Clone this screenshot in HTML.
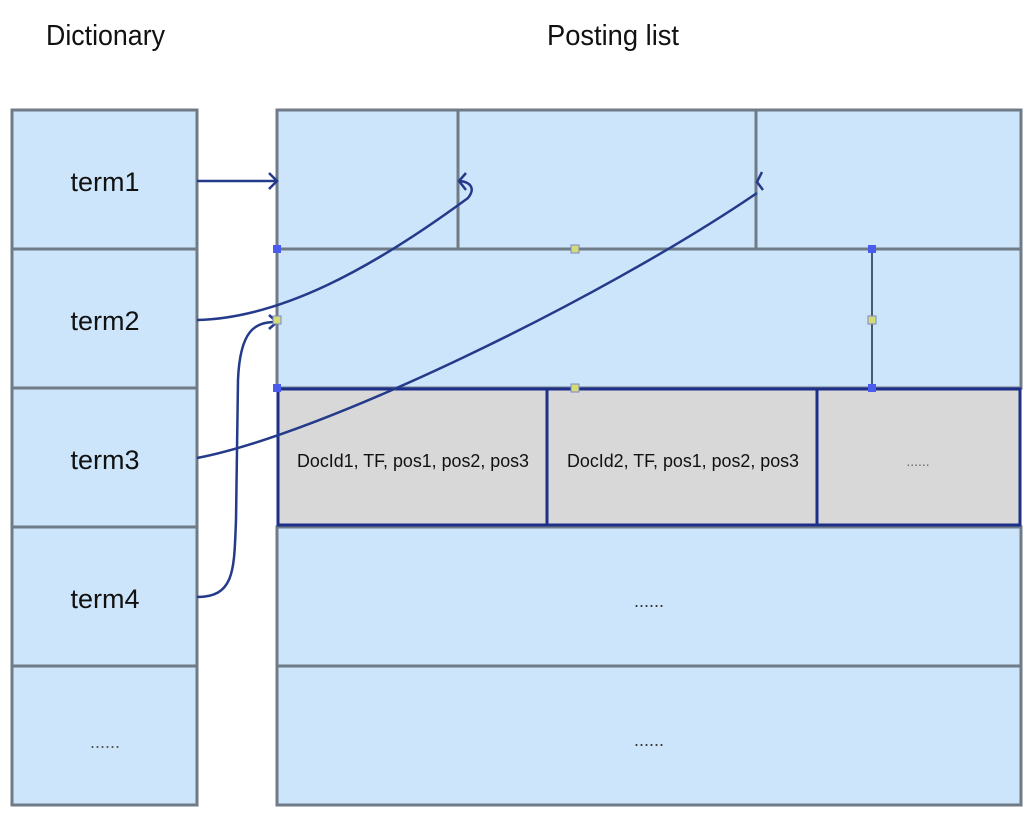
<!DOCTYPE html>
<html><head><meta charset="utf-8"><style>
html,body{margin:0;padding:0;background:#fff;}
svg{display:block;font-family:"Liberation Sans",Arial,sans-serif;}
</style></head><body>
<svg width="1031" height="822" viewBox="0 0 1031 822">
<text x="46" y="45" font-size="29" textLength="119" lengthAdjust="spacingAndGlyphs" fill="#111">Dictionary</text>
<text x="547" y="45" font-size="29" textLength="132" lengthAdjust="spacingAndGlyphs" fill="#111">Posting list</text>
<!-- dictionary -->
<g fill="#cde5fb" stroke="#6f7b86" stroke-width="3">
<rect x="12" y="110" width="185" height="139"/>
<rect x="12" y="249" width="185" height="139"/>
<rect x="12" y="388" width="185" height="139"/>
<rect x="12" y="527" width="185" height="139"/>
<rect x="12" y="666" width="185" height="139"/>
</g>
<g font-size="27" text-anchor="middle" fill="#111">
<text x="105" y="191">term1</text>
<text x="105" y="330">term2</text>
<text x="105" y="469">term3</text>
<text x="105" y="608">term4</text>
</g>
<text x="105" y="748" font-size="18" text-anchor="middle" fill="#555">......</text>
<!-- posting -->
<g fill="#cde5fb" stroke="#6f7b86" stroke-width="3">
<rect x="277" y="110" width="744" height="139"/>
<rect x="277" y="249" width="744" height="139"/>
<rect x="277" y="527" width="744" height="139"/>
<rect x="277" y="666" width="744" height="139"/>
<line x1="458" y1="110" x2="458" y2="249"/>
<line x1="756" y1="110" x2="756" y2="249"/>
</g>
<g fill="#d8d8d8" stroke="#1e2f8a" stroke-width="3">
<rect x="278" y="389" width="742" height="136"/>
<line x1="547" y1="389" x2="547" y2="525"/>
<line x1="817" y1="389" x2="817" y2="525"/>
</g>
<g font-size="18" fill="#111">
<text x="297" y="467" textLength="232" lengthAdjust="spacingAndGlyphs">DocId1, TF, pos1, pos2, pos3</text>
<text x="567" y="467" textLength="232" lengthAdjust="spacingAndGlyphs">DocId2, TF, pos1, pos2, pos3</text>
</g>
<text x="918" y="466" font-size="14" text-anchor="middle" fill="#666">......</text>
<text x="649" y="607" font-size="18" text-anchor="middle" fill="#333">......</text>
<text x="649" y="746" font-size="18" text-anchor="middle" fill="#333">......</text>
<!-- connectors -->
<g fill="none" stroke="#243a8a" stroke-width="2.5">
<line x1="197" y1="181" x2="276" y2="181"/>
<path d="M269 173 L277 181 L269 189"/>
<path d="M197 320 C280 318 370 270 468 198 C476 188 470 182 460 181"/>
<path d="M466 173 L459 181 L466 190"/>
<path d="M197 458 C320 435 600 300 757 193"/>
<path d="M762 172 L757 182 L763 190"/>
<path d="M197 597 C235 597 234 570 236 520 L238 380 C240 330 255 322 276 322"/>
<path d="M269 315 L277 322 L269 329"/>
<line x1="872" y1="249" x2="872" y2="388" stroke="#4a5a70" stroke-width="2"/>
</g>
<g fill="#4a5cf0">
<rect x="273" y="245" width="8" height="8"/>
<rect x="273" y="384" width="8" height="8"/>
<rect x="868" y="245" width="8" height="8"/>
<rect x="868" y="384" width="8" height="8"/>
</g>
<g fill="#d4dc7a" stroke="#7a86c8" stroke-width="1">
<rect x="571" y="245" width="8" height="8"/>
<rect x="571" y="384" width="8" height="8"/>
<rect x="273" y="316" width="8" height="8"/>
<rect x="868" y="316" width="8" height="8"/>
</g>
</svg>
</body></html>
